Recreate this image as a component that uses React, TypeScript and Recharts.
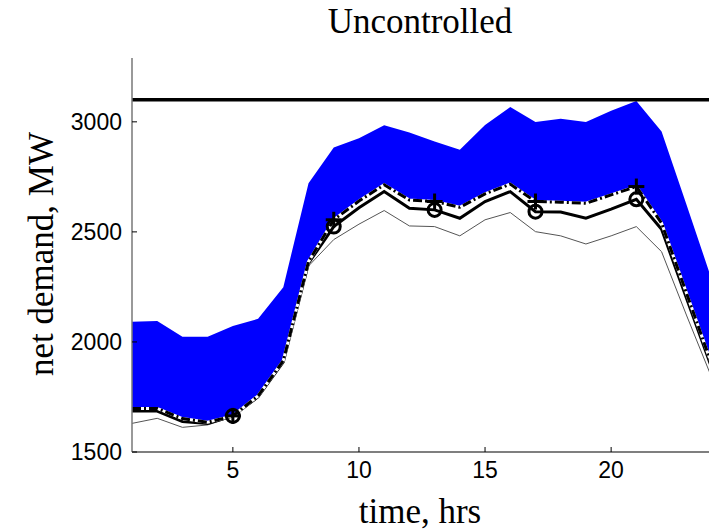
import React from 'react';
import {
  ComposedChart,
  Area,
  Line,
  XAxis,
  YAxis,
  ReferenceLine,
} from 'recharts';

const hours = [1, 2, 3, 4, 5, 6, 7, 8, 9, 10, 11, 12, 13, 14, 15, 16, 17, 18, 19, 20, 21, 22, 23, 24];

// upper edge of the blue band
const upperBound = [2092, 2095, 2024, 2024, 2073, 2105, 2249, 2721, 2883, 2925, 2985, 2952, 2911, 2873, 2986, 3067, 2999, 3014, 2999, 3050, 3095, 2956, 2620, 2280];
// dash-dot line (+ markers), also lower edge of the band
const dashDot = [1698, 1698, 1652, 1635, 1664, 1755, 1915, 2365, 2555, 2640, 2714, 2645, 2638, 2612, 2673, 2717, 2638, 2635, 2630, 2668, 2706, 2540, 2218, 1895];
// thick solid line (o markers)
const solid = [1686, 1686, 1638, 1630, 1664, 1751, 1910, 2358, 2524, 2610, 2683, 2607, 2600, 2562, 2638, 2683, 2592, 2590, 2562, 2603, 2648, 2512, 2195, 1879];
// thin grey line
const thin = [1630, 1653, 1612, 1623, 1660, 1745, 1905, 2345, 2465, 2535, 2597, 2527, 2524, 2482, 2555, 2588, 2501, 2482, 2445, 2482, 2524, 2410, 2118, 1835];

const markerHours = [5, 9, 13, 17, 21];
const capacity = 3100;

const xTicks = [5, 10, 15, 20];
const yTicks = [1500, 2000, 2500, 3000];

const data = hours.map((hour, i) => ({
  hour,
  band: [dashDot[i], upperBound[i]],
  dashDot: dashDot[i],
  solid: solid[i],
  thin: thin[i],
}));

const serif = '"Liberation Serif", "Times New Roman", serif';
const sans = '"Liberation Sans", Arial, sans-serif';

const CircleDot = (props: any) => {
  const { cx, cy, payload, index } = props;
  if (!markerHours.includes(payload.hour)) return <g key={`c-${index}`} />;
  return <circle key={`c-${index}`} cx={cx} cy={cy} r={6.5} fill="none" stroke="#000" strokeWidth={3} />;
};

const PlusDot = (props: any) => {
  const { cx, cy, payload, index } = props;
  if (!markerHours.includes(payload.hour)) return <g key={`p-${index}`} />;
  return (
    <g key={`p-${index}`}>
      <line x1={cx - 8} y1={cy} x2={cx + 8} y2={cy} stroke="#000" strokeWidth={3} />
      <line x1={cx} y1={cy - 8} x2={cx} y2={cy + 8} stroke="#000" strokeWidth={3} />
    </g>
  );
};

export default function App() {
  return (
    <div style={{ position: 'absolute', left: 0, top: 0, width: 709, height: 532, overflow: 'hidden', background: '#fff' }}>
      <ComposedChart width={720} height={532} data={data} margin={{ top: 58, right: 8, left: 0, bottom: 0 }}>
        <XAxis
          dataKey="hour"
          type="number"
          domain={[1, 24]}
          ticks={xTicks}
          interval={0}
          height={80}
          axisLine={{ stroke: '#555', strokeWidth: 1.5 }}
          tickLine={{ stroke: '#000' }}
          tickSize={-5}
          tickMargin={15}
          tick={{ fontSize: 23, fontFamily: sans, fill: '#000' }}
        />
        <YAxis
          type="number"
          domain={[1500, 3290]}
          ticks={yTicks}
          interval={0}
          width={132}
          axisLine={{ stroke: '#777', strokeWidth: 1.5 }}
          tickLine={{ stroke: '#000' }}
          tickSize={-5}
          tickMargin={15}
          tick={{ fontSize: 23, fontFamily: sans, fill: '#000' }}
        />
        <ReferenceLine y={capacity} stroke="#000" strokeWidth={3.5} />
        <Area
          dataKey="band"
          type="linear"
          stroke="none"
          fill="#0000ff"
          fillOpacity={1}
          isAnimationActive={false}
        />
        <Line dataKey="thin" type="linear" stroke="#555" strokeWidth={1} dot={false} isAnimationActive={false} />
        <Line dataKey="solid" type="linear" stroke="#000" strokeWidth={3} dot={CircleDot} isAnimationActive={false} />
        <Line dataKey="dashDot" type="linear" stroke="#fff" strokeWidth={3} dot={false} isAnimationActive={false} />
        <Line
          dataKey="dashDot"
          type="linear"
          stroke="#000"
          strokeWidth={3}
          strokeDasharray="9 3 2 3"
          dot={PlusDot}
          isAnimationActive={false}
        />
      </ComposedChart>
      <svg width={709} height={532} style={{ position: 'absolute', left: 0, top: 0, pointerEvents: 'none' }}>
        <text x={420} y={33} textAnchor="middle" fontFamily={serif} fontSize={35} fill="#000">
          Uncontrolled
        </text>
        <text x={420} y={523} textAnchor="middle" fontFamily={serif} fontSize={35} fill="#000">
          time, hrs
        </text>
        <text
          x={0}
          y={0}
          transform="translate(53 254) rotate(-90)"
          textAnchor="middle"
          fontFamily={serif}
          fontSize={35}
          fill="#000"
        >
          net demand, MW
        </text>
      </svg>
    </div>
  );
}
